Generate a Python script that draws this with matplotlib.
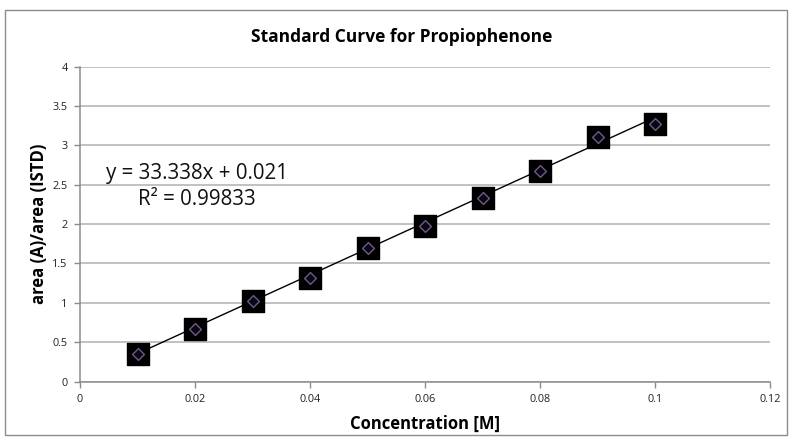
import numpy as np
import matplotlib.pyplot as plt
from matplotlib.patches import Rectangle

plt.rcParams['font.family'] = ['Open Sans', 'DejaVu Sans']

# standard solutions
conc = [0.01, 0.02, 0.03, 0.04, 0.05, 0.06, 0.07, 0.08, 0.09, 0.10]
ratio = [0.345, 0.672, 1.025, 1.31, 1.69, 1.97, 2.33, 2.68, 3.105, 3.27]

# linear trendline
slope = 33.338
intercept = 0.021
r2 = 0.99833

fig = plt.figure(figsize=(7.92, 4.43), dpi=100)
fig.patches.append(Rectangle((5 / 792, 8 / 443), 782 / 792, 425 / 443,
                             transform=fig.transFigure, fill=False,
                             edgecolor='#8c8c8c', linewidth=1.0))

ax = fig.add_axes([80 / 792, 61.5 / 443, 690 / 792, 314.8 / 443])

ax.yaxis.grid(True, color='#b0b0b0', linewidth=1.1)
ax.set_axisbelow(True)

xfit = np.array([min(conc), max(conc)])
ax.plot(xfit, slope * xfit + intercept, color='black', linewidth=1.0, zorder=2)

ax.scatter(conc, ratio, marker='s', s=22 ** 2 * 0.52, color='black', zorder=3)
ax.scatter(conc, ratio, marker='D', s=36, facecolor='#0a0512',
           edgecolor='#6d5c86', linewidth=1.0, zorder=4)

ax.set_xlim(0, 0.12)
ax.set_ylim(0, 4)
ax.set_xticks(np.arange(0, 0.121, 0.02))
ax.set_xticklabels(['0', '0.02', '0.04', '0.06', '0.08', '0.1', '0.12'])
ax.set_yticks(np.arange(0, 4.01, 0.5))
ax.set_yticklabels(['0', '0.5', '1', '1.5', '2', '2.5', '3', '3.5', '4'])

for side in ['top', 'right']:
    ax.spines[side].set_visible(False)
for side in ['left', 'bottom']:
    ax.spines[side].set_color('#8c8c8c')
    ax.spines[side].set_linewidth(1.1)
ax.tick_params(axis='both', direction='out', length=4, width=1,
               color='#8c8c8c', labelsize=7.8, labelcolor='#222222', pad=5)

# title sits centred on the whole chart area, not the plot area
fig.text(402 / 792, 1 - 37 / 443, 'Standard Curve for Propiophenone',
         fontsize=12.5, fontweight='bold', ha='center', va='center')
ax.set_xlabel('Concentration [M]', fontsize=12, fontweight='bold', labelpad=7)
ax.set_ylabel('area (A)/area (ISTD)', fontsize=12, fontweight='bold', labelpad=3)

ax.text(0.0203, 2.48, f'y = {slope}x + {intercept}\nR² = {r2}',
        fontsize=14.8, ha='center', va='center', linespacing=1.3, color='#111111')

fig.savefig('out.png', dpi=100)
